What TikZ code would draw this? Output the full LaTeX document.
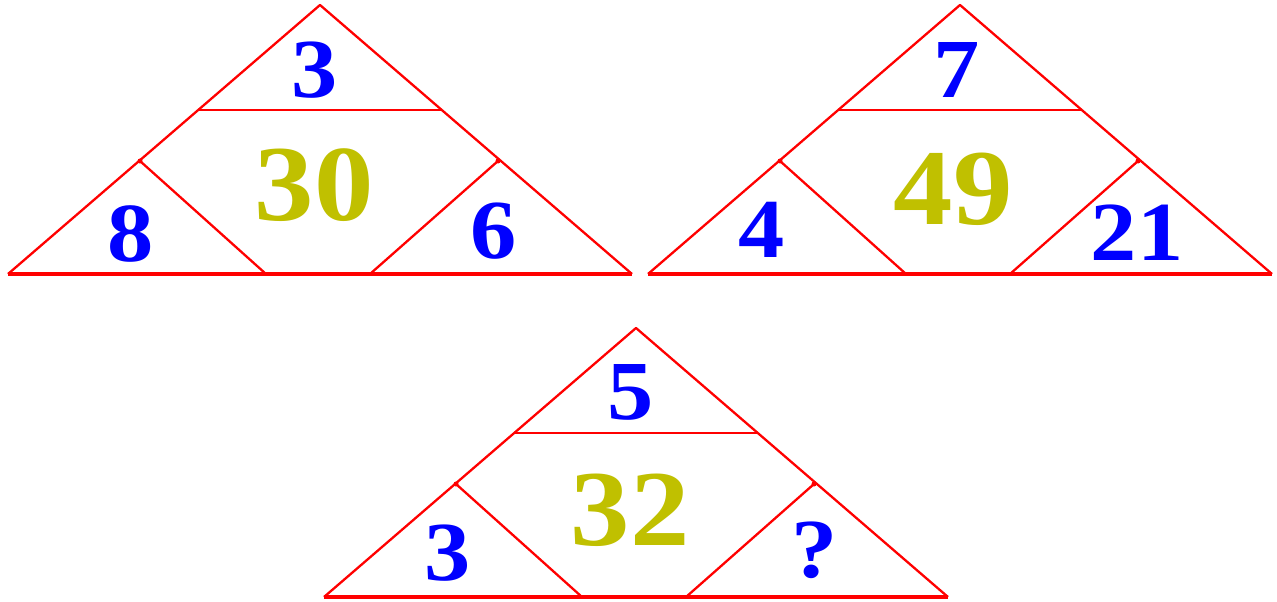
\documentclass[tikz,border=0pt]{standalone}
\usepackage{fontspec}
\setmainfont{Liberation Serif}
\definecolor{numblue}{RGB}{0,0,255}
\definecolor{numyellow}{RGB}{192,192,0}
\newcommand\widetxt[1]{\scalebox{1.1}[1]{#1}}
\begin{document}
\begin{tikzpicture}[x=1pt,y=-1pt,
  edge/.style={draw=red,line width=2.3pt,line join=round},
  baseedge/.style={draw=red,line width=3.4pt},
  small/.style={text=numblue,inner sep=0pt,font=\bfseries\fontsize{84}{84}\selectfont},
  big/.style={text=numyellow,inner sep=0pt,font=\bfseries\fontsize{108}{108}\selectfont}]
\useasboundingbox (0,0) rectangle (1277,602);
\fill[white] (0,0) rectangle (1277,602);
% triangle geometry as a reusable pic
\tikzset{puzzle/.pic={
  \coordinate (-A) at (320,5);
  \coordinate (-L) at (8,274);
  \coordinate (-R) at (632,274);
  \coordinate (-H1) at (199,110);
  \coordinate (-H2) at (441,110);
  \coordinate (-J1) at (140,161);
  \coordinate (-B1) at (266,274);
  \coordinate (-J2) at (498,161);
  \coordinate (-B2) at (370,274);
  \draw[edge] (-L) -- (-A) -- (-R);
  \draw[baseedge] (-L) -- (-R);
  \draw[edge,line width=2.8pt] (-H1) -- (-H2);
  \draw[edge] (-J1) -- (-B1);
  \draw[edge] (-J2) -- (-B2);
  \fill[red] (-J1) circle (2.5pt) (-J2) circle (2.5pt);
}}
\pic (t1) at (0,0) {puzzle};
\pic (t2) at (640,0) {puzzle};
\pic (t3) at (316,323) {puzzle};
% triangle 1
\node[small] (a1) at (315,70) {\widetxt{3}};
\node[big] (c1) at (314,185) {\widetxt{30}};
\node[small] (l1) at (131,234) {\widetxt{8}};
\node[small] (r1) at (494,231) {\widetxt{6}};
% triangle 2
\node[small] (a2) at (957,70) {\widetxt{7}};
\node[big] (c2) at (953,189) {\widetxt{49}};
\node[small] (l2) at (762,230) {\widetxt{4}};
\node[small] (r2) at (1137,233) {\widetxt{21}};
% triangle 3
\node[small] (a3) at (631,392) {\widetxt{5}};
\node[big] (c3) at (630,510) {\widetxt{32}};
\node[small] (l3) at (448,553) {\widetxt{3}};
\node[small] (r3) at (815,550) {\widetxt{?}};
\end{tikzpicture}
\end{document}
